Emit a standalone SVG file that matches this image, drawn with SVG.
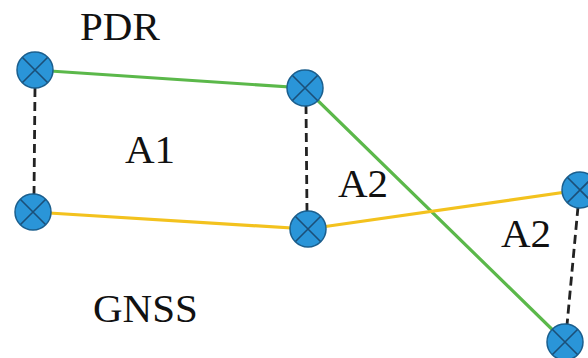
<svg xmlns="http://www.w3.org/2000/svg" width="588" height="358" viewBox="0 0 588 358">
<style>
.lbl{font-family:'Liberation Serif','Times New Roman','DejaVu Serif',serif;font-size:41px;fill:#111}
.g{stroke:#5BB84A;stroke-width:3.2;fill:none}
.y{stroke:#F3C21E;stroke-width:3.2;fill:none}
.d{stroke:#222;stroke-width:2.8;stroke-dasharray:9 5;fill:none}
.n circle{fill:#2A95D8;stroke:#1B5F8E;stroke-width:1.5}
.n path{stroke:#1B4F78;stroke-width:1.6;fill:none}
</style>
<rect width="588" height="358" fill="#fff"/>
<g id="connectors">
<line class="d" x1="35" y1="88" x2="34" y2="195"/>
<line class="d" x1="306" y1="105" x2="307" y2="212"/>
<line class="d" x1="578" y1="207" x2="567" y2="325"/>
<polyline class="g" points="35,70 305,88 565,342"/>
<polyline class="y" points="33,212 308,229 580,190"/>
</g>
<g id="n1" class="n" transform="translate(35,70)"><circle r="18"/><path d="M-12.5,-12.5L12.5,12.5M12.5,-12.5L-12.5,12.5"/></g>
<g id="n2" class="n" transform="translate(305,88)"><circle r="18"/><path d="M-12.5,-12.5L12.5,12.5M12.5,-12.5L-12.5,12.5"/></g>
<g id="n3" class="n" transform="translate(33,212)"><circle r="18"/><path d="M-12.5,-12.5L12.5,12.5M12.5,-12.5L-12.5,12.5"/></g>
<g id="n4" class="n" transform="translate(308,229)"><circle r="18"/><path d="M-12.5,-12.5L12.5,12.5M12.5,-12.5L-12.5,12.5"/></g>
<g id="n5" class="n" transform="translate(580,190)"><circle r="18"/><path d="M-12.5,-12.5L12.5,12.5M12.5,-12.5L-12.5,12.5"/></g>
<g id="n6" class="n" transform="translate(565,342)"><circle r="18"/><path d="M-12.5,-12.5L12.5,12.5M12.5,-12.5L-12.5,12.5"/></g>
<g id="labels">
<text class="lbl" x="80" y="40" font-family="Liberation Serif, serif">PDR</text>
<text class="lbl" x="125" y="163" font-family="Liberation Serif, serif">A1</text>
<text class="lbl" x="338" y="197" font-family="Liberation Serif, serif">A2</text>
<text class="lbl" x="501" y="247" font-family="Liberation Serif, serif">A2</text>
<text class="lbl" x="93" y="322" font-family="Liberation Serif, serif">GNSS</text>
</g>
</svg>
